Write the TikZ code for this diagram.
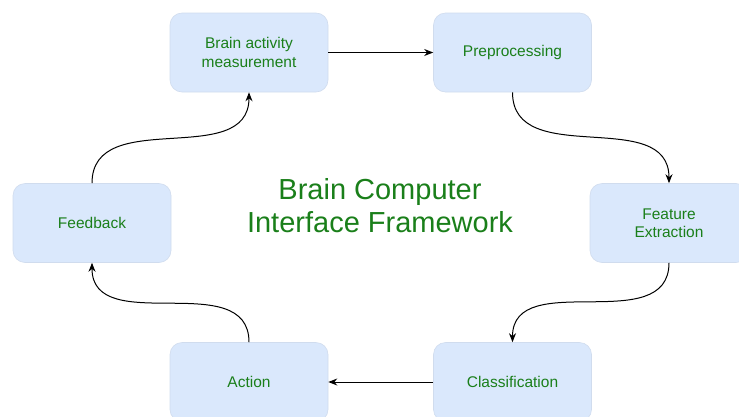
\documentclass[tikz,border=0pt]{standalone}
\usepackage{fontspec}
\setmainfont{Liberation Sans}
\usetikzlibrary{arrows.meta}
\definecolor{boxfill}{HTML}{DAE8FC}
\definecolor{boxline}{HTML}{D0DCEE}
\definecolor{txtgreen}{HTML}{1A7F1A}
\begin{document}
\begin{tikzpicture}[x=1pt,y=-1pt,
  box/.style={rectangle,rounded corners=12pt,fill=boxfill,draw=boxline,line width=0.6pt,
    minimum width=158pt,minimum height=79pt,inner sep=0pt,align=center,
    text=txtgreen,font=\fontsize{15.5}{18.5}\selectfont},
  conn/.style={line width=1pt,-{Stealth[length=9pt,width=7pt]}}]
\useasboundingbox (0,0) rectangle (739,416);
\clip (0,0) rectangle (739,416);
\node[box] (brain) at (249,52.5) {Brain activity\\measurement};
\node[box] (prep) at (512.5,52.5) {Preprocessing};
\node[box] (feed) at (92,223) {Feedback};
\node[box] (feat) at (669,223) {Feature\\Extraction};
\node[box] (act) at (249,382) {Action};
\node[box] (cls) at (512.5,382) {Classification};
\node[text=txtgreen,align=center,font=\fontsize{29}{33}\selectfont] (title) at (380,206) {Brain Computer\\Interface Framework};
\draw[conn] (brain.east) -- (prep.west);
\draw[conn] (prep.south) to[out=-90,in=90,looseness=1.1] (feat.north);
\draw[conn] (feat.south) to[out=-90,in=90,looseness=1.1] (cls.north);
\draw[conn] (cls.west) -- (act.east);
\draw[conn] (act.north) to[out=90,in=-90,looseness=1.1] (feed.south);
\draw[conn] (feed.north) to[out=90,in=-90,looseness=1.1] (brain.south);
\end{tikzpicture}
\end{document}
